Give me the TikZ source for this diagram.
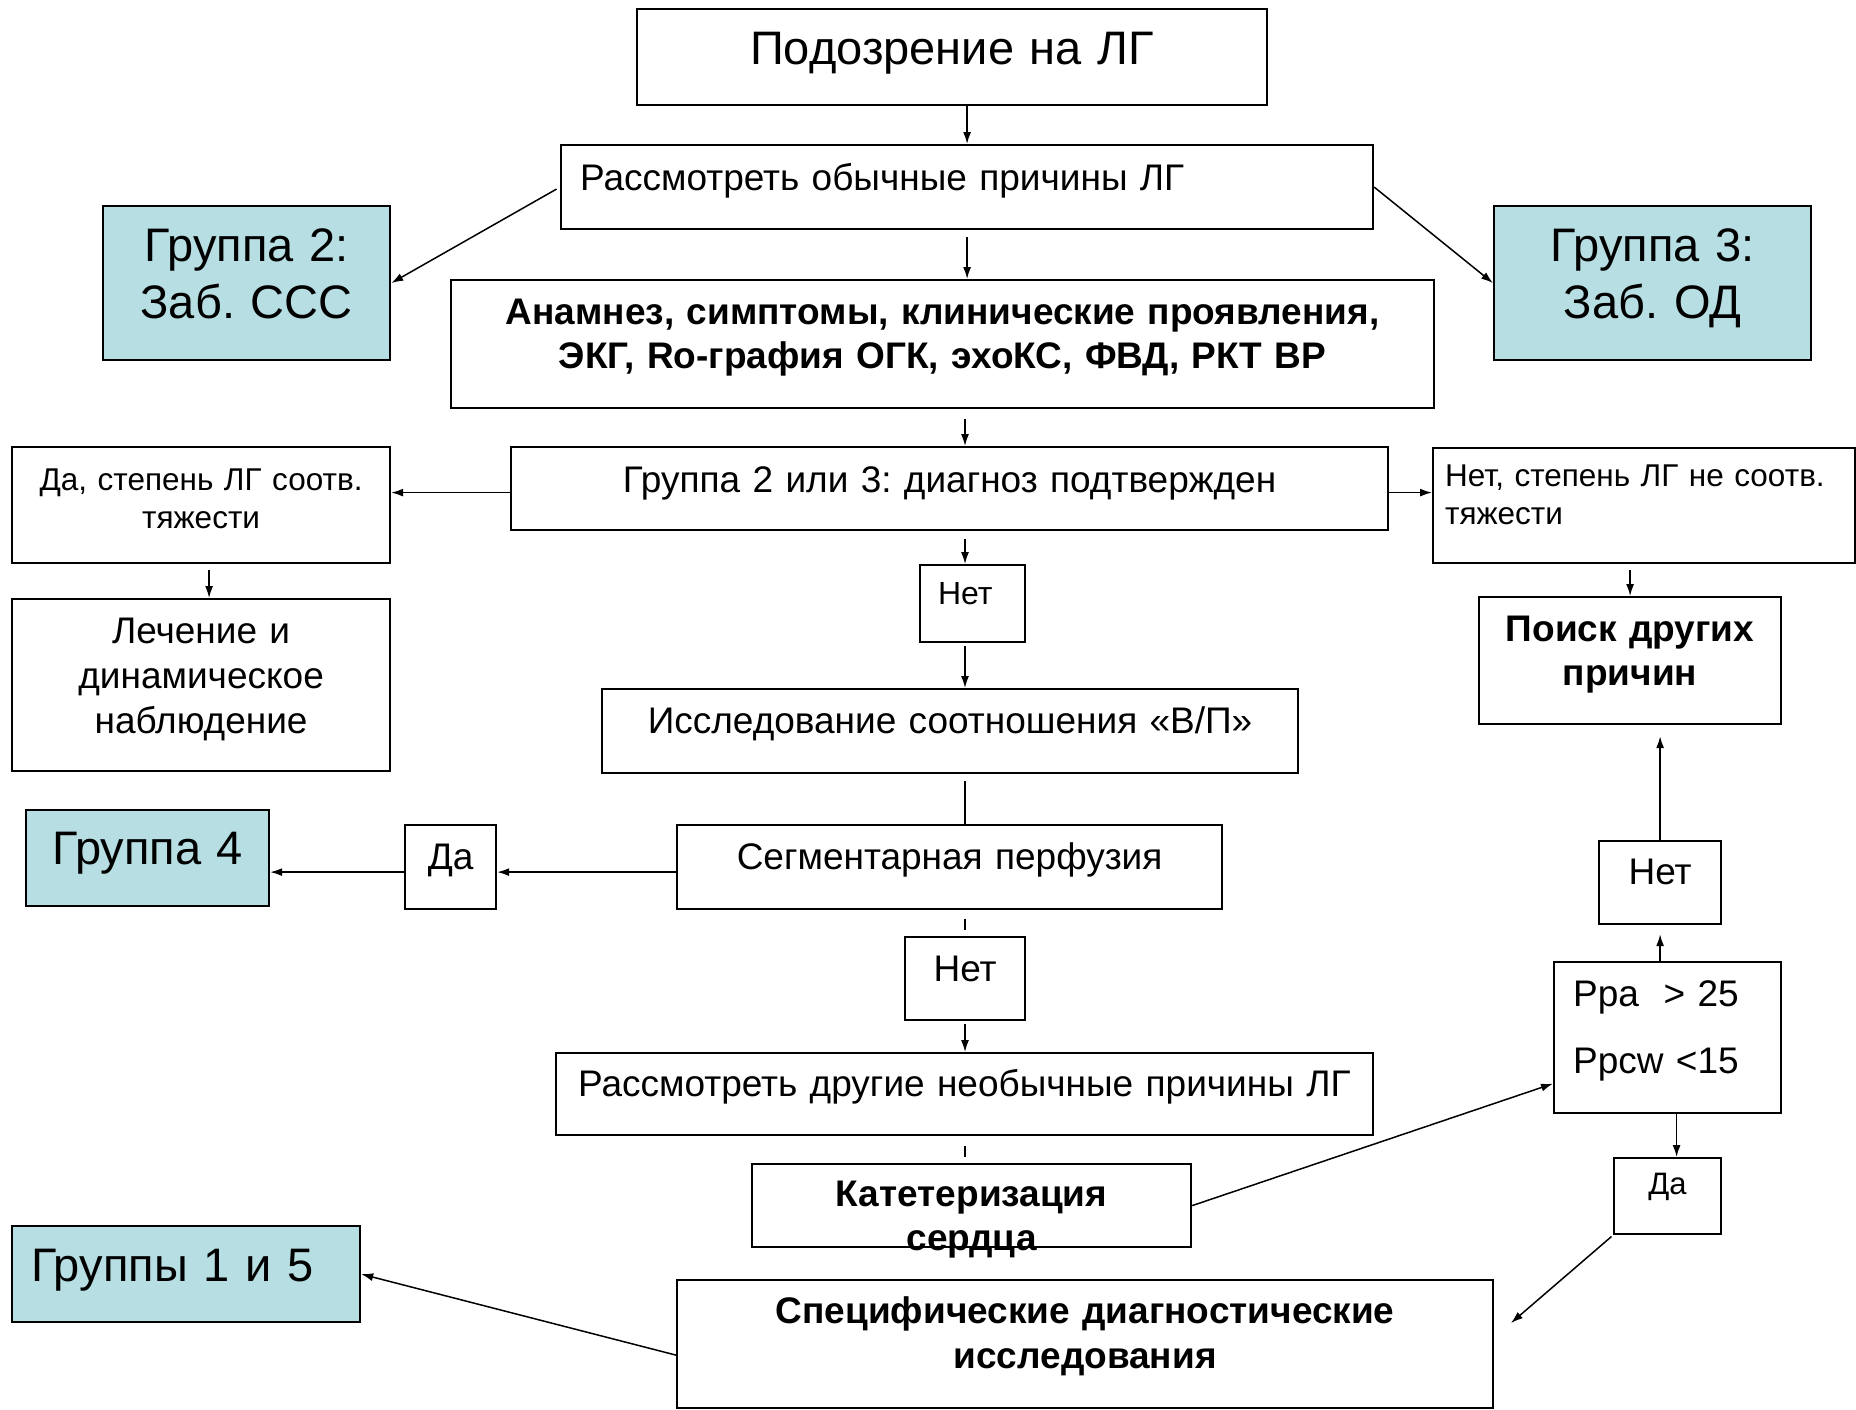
\documentclass[tikz,border=0pt]{standalone}
\usepackage{fontspec}
\setmainfont{Liberation Sans}
\usetikzlibrary{arrows.meta}
\definecolor{lightteal}{RGB}{183,222,226}
\frenchspacing

\begin{document}
\begin{tikzpicture}[x=1pt, y=-1pt,
  box/.style={draw, line width=2.2pt, anchor=north west, inner ysep=0pt, inner xsep=10pt,
    align=center, font=\fontsize{37}{45}\selectfont, text height=27pt, text depth=23pt},
  grp/.style={box, fill=lightteal, font=\fontsize{47}{57}\selectfont, text height=34pt},
  bbox/.style={box, font=\bfseries\fontsize{37}{44}\selectfont},
  arr/.style={-{Latex[length=12pt,width=8pt]}, line width=1.5pt},
  ln/.style={line width=1.5pt}]

  \useasboundingbox (0,0) rectangle (1856,1409);
  \coordinate (spine) at (965,0);

  % top part
  \node[box, text width=610pt, minimum height=96pt, font=\fontsize{47}{56}\selectfont,
        text height=33pt, text depth=19pt] (susp) at (636,8) {Подозрение на ЛГ};
  \node[box, inner xsep=19pt, text width=774pt, minimum height=84pt, align=left,
        text depth=21pt] (consider) at (560,144) {Рассмотреть обычные причины ЛГ};
  \node[grp, text width=267pt, minimum height=154pt, text depth=78pt] (group2) at (102,205) {Группа 2:\\Заб. ССС};
  \node[grp, text width=297pt, minimum height=154pt, text depth=78pt] (group3) at (1493,205) {Группа 3:\\Заб. ОД};
  \node[bbox, text width=963pt, minimum height=128pt,
        text height=26pt, text depth=66pt] (hist) at (450,279)
        {Анамнез, симптомы, клинические проявления,\\ЭКГ, Ro-графия ОГК, эхоКС, ФВД, РКТ ВР};
  \node[box, text width=857pt, minimum height=83pt, text depth=20pt] (confirm) at (510,446)
        {Группа 2 или 3: диагноз подтвержден};

  % side branches
  \node[box, font=\fontsize{31.5}{38}\selectfont, text width=358pt, minimum height=116pt,
        text height=22pt, text depth=52pt] (yes1) at (11,446) {Да, степень ЛГ соотв.\\тяжести};
  \node[box, font=\fontsize{31.5}{38}\selectfont, inner xsep=12pt, text width=398pt, align=left,
        minimum height=115pt, text height=22pt, text depth=61pt] (no1) at (1432,447)
        {Нет, степень ЛГ не соотв.\\тяжести};
  \node[box, text width=358pt, minimum height=172pt, text depth=111pt] (treat) at (11,598)
        {Лечение и\\динамическое\\наблюдение};
  \node[bbox, text width=282pt, minimum height=127pt, text depth=66pt] (search) at (1478,596)
        {Поиск других\\причин};

  % middle column
  \node[box, font=\fontsize{32}{38}\selectfont, inner xsep=18pt, text width=69pt, align=left,
        minimum height=77pt, text height=23pt, text depth=22pt] (netA) at (919,564) {Нет};
  \node[box, text width=676pt, minimum height=84pt] (vq) at (601,688) {Исследование соотношения «В/П»};
  \node[box, text width=525pt, minimum height=84pt] (segm) at (676,824) {Сегментарная перфузия};
  \node[box, text width=71pt, minimum height=84pt] (yes2) at (404,824) {Да};
  \node[grp, text width=223pt, minimum height=96pt, text depth=22pt] (group4) at (25,809) {Группа 4};
  \node[box, text width=100pt, minimum height=83pt, text depth=22pt] (netC) at (904,936) {Нет};
  \node[box, inner xsep=22pt, text width=773pt, align=left, minimum height=82pt] (other) at (555,1052)
        {\mbox{Рассмотреть другие необычные причины ЛГ}};
  \node[bbox, text width=419pt, minimum height=83pt, text depth=26pt] (cath) at (751,1163)
        {Катетеризация\\сердца};
  \node[bbox, font=\bfseries\fontsize{37}{45}\selectfont, text width=796pt, minimum height=128pt,
        text depth=69pt] (spec) at (676,1279) {Специфические диагностические\\исследования};
  \node[grp, inner xsep=19pt, text width=310pt, align=left, minimum height=96pt,
        text depth=20pt] (group15) at (11,1225) {Группы 1 и 5};

  % right column
  \node[box, text width=102pt, minimum height=83pt, text depth=24pt] (netB) at (1598,840) {Нет};
  \node[box, inner xsep=19pt, text width=189pt, align=left, minimum height=151pt,
        text depth=90pt] (ppa) at (1553,961) {Ppa\ \ > 25\\[22pt]Ppcw <15};
  \node[box, font=\fontsize{31}{38}\selectfont, text width=87pt, minimum height=76pt,
        text height=22.5pt, text depth=26.5pt] (da3) at (1613,1157) {Да};
  \coordinate (specin) at (1511,1323);

  % arrows
  \draw[arr] (susp.south -| consider.north) -- (consider.north);
  \draw[arr, shorten <=7pt] (consider.south) -- (consider.south |- hist.north);
  \draw[arr, shorten <=4pt] (consider.west) -- (group2.east);
  \draw[arr] (consider.east) -- (group3.west);
  \draw[arr, shorten <=10pt] (hist.south -| spine) -- (confirm.north -| spine);
  \draw[arr] ([yshift=-4pt]confirm.west) -- ([yshift=-4pt]confirm.west -| yes1.east);
  \draw[arr] ([yshift=-4pt]confirm.east) -- ([yshift=-4pt]confirm.east -| no1.west);
  \draw[arr, shorten <=8pt] (confirm.south -| spine) -- (netA.north -| spine);
  \draw[arr, shorten <=6pt] ([xshift=8pt]yes1.south) -- ([xshift=8pt]treat.north);
  \draw[arr, shorten <=6pt] (no1.south -| search.north) -- (search.north);
  \draw[arr, shorten <=3pt] (netA.south -| spine) -- (vq.north -| spine);
  \draw[ln, shorten <=7pt] (vq.south -| spine) -- (segm.north -| spine);
  \draw[ln, shorten <=9pt, shorten >=6pt] (segm.south -| spine) -- (netC.north -| spine);
  \draw[arr] ([yshift=-5pt]segm.west) -- ([yshift=-5pt]yes2.east);
  \draw[arr] ([yshift=-5pt]yes2.west) -- ([yshift=-5pt]yes2.west -| group4.east);
  \draw[arr, shorten <=3pt] (netC.south -| spine) -- (other.north -| spine);
  \draw[ln, shorten <=10pt, shorten >=6pt] (other.south -| spine) -- (cath.north -| spine);
  \draw[arr] (cath.east) -- ([yshift=-46pt]ppa.west);
  \draw[arr, shorten >=9pt] (netB.south |- ppa.north) -- (netB.south);
  \draw[arr, shorten >=11pt] (netB.north) -- (netB.north |- search.south);
  \draw[arr] ([xshift=9pt]ppa.south) -- ([xshift=9pt]ppa.south |- da3.north);
  \draw[arr, shorten <=2pt] (da3.south west) -- (specin);
  \draw[arr] ([yshift=-11pt]spec.west) -- (group15.east);
\end{tikzpicture}
\end{document}
